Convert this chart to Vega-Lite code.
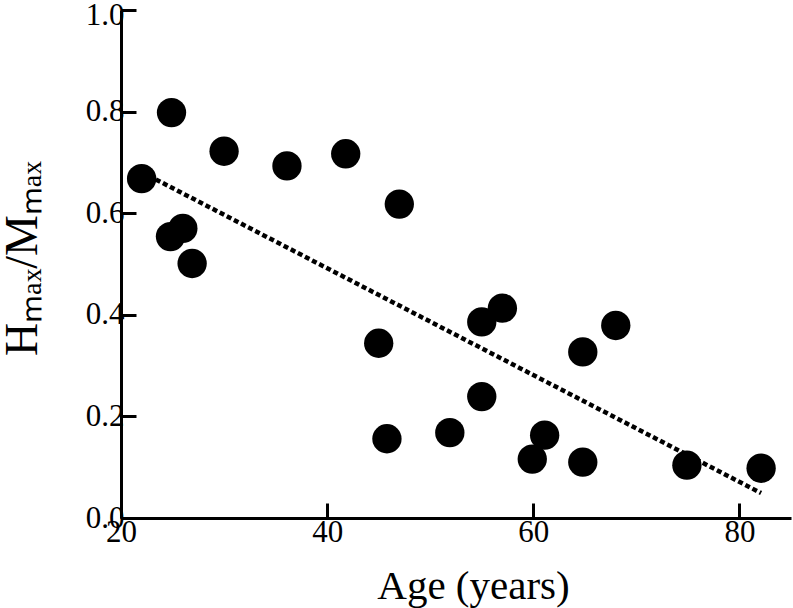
{
  "$schema": "https://vega.github.io/schema/vega-lite/v6.json",
  "width": 670,
  "height": 508,
  "autosize": "none",
  "padding": {"left": 121, "top": 10, "right": 2, "bottom": 90},
  "background": "white",
  "config": {
    "view": {"stroke": null},
    "axis": {
      "grid": false,
      "domainColor": "black",
      "domainWidth": 3,
      "tickColor": "black",
      "tickWidth": 3,
      "tickSize": -15,
      "titleFont": "Liberation Serif",
      "titleColor": "black",
      "titleFontWeight": "normal"
    }
  },
  "datasets": {
    "points": [
      {"age": 22.0, "ratio": 0.668},
      {"age": 24.9, "ratio": 0.798},
      {"age": 24.8, "ratio": 0.554},
      {"age": 26.0, "ratio": 0.570},
      {"age": 26.9, "ratio": 0.501},
      {"age": 30.0, "ratio": 0.722},
      {"age": 36.1, "ratio": 0.693},
      {"age": 41.8, "ratio": 0.717},
      {"age": 47.0, "ratio": 0.618},
      {"age": 45.0, "ratio": 0.344},
      {"age": 45.8, "ratio": 0.156},
      {"age": 51.9, "ratio": 0.168},
      {"age": 55.0, "ratio": 0.239},
      {"age": 55.0, "ratio": 0.386},
      {"age": 57.0, "ratio": 0.413},
      {"age": 61.1, "ratio": 0.163},
      {"age": 59.9, "ratio": 0.116},
      {"age": 64.8, "ratio": 0.327},
      {"age": 64.8, "ratio": 0.110},
      {"age": 68.0, "ratio": 0.379},
      {"age": 74.9, "ratio": 0.104},
      {"age": 82.1, "ratio": 0.098}
    ],
    "fit": [
      {"age": 22.0, "ratio": 0.681},
      {"age": 82.1, "ratio": 0.049}
    ]
  },
  "layer": [
    {
      "data": {"name": "fit"},
      "mark": {"type": "line", "color": "black", "strokeWidth": 4.5, "strokeDash": [5, 3], "strokeCap": "butt"},
      "encoding": {
        "x": {"field": "age", "type": "quantitative"},
        "y": {"field": "ratio", "type": "quantitative"}
      }
    },
    {
      "data": {"name": "points"},
      "mark": {"type": "circle", "color": "black", "opacity": 1, "size": 860},
      "encoding": {
        "x": {
          "field": "age",
          "type": "quantitative",
          "scale": {"domain": [20, 85], "nice": false, "zero": false},
          "axis": {
            "values": [20, 40, 60, 80],
            "labelFlush": false,
            "labelFont": "Liberation Serif",
            "labelFontSize": 31,
            "labelColor": "black",
            "labelPadding": 14,
            "title": "Age (years)",
            "titleFontSize": 41,
            "titleX": 352,
            "titleY": 80,
            "titleBaseline": "alphabetic",
            "titleAlign": "center"
          }
        },
        "y": {
          "field": "ratio",
          "type": "quantitative",
          "scale": {"domain": [0, 1], "nice": false},
          "axis": {
            "values": [0, 0.2, 0.4, 0.6, 0.8, 1.0],
            "format": ".1f",
            "labelFlush": false,
            "labelFont": "Liberation Serif",
            "labelFontSize": 31,
            "labelColor": "black",
            "labelPadding": 12,
            "labelBaseline": "middle",
            "labelOffset": {"condition": {"test": "datum.value >= 1", "value": 5}, "value": 0},
            "title": "Hₘₐₓ/Mₘₐₓ",
            "titleFontSize": 46,
            "titleAngle": -90,
            "titleX": -85,
            "titleY": 248,
            "titleBaseline": "alphabetic",
            "titleAlign": "center"
          }
        }
      }
    }
  ]
}
